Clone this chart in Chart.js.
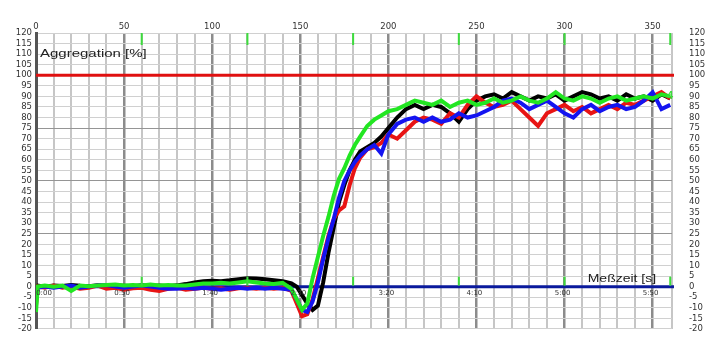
<!DOCTYPE html>
<html>
<head>
<meta charset="utf-8">
<script src="https://cdn.jsdelivr.net/npm/chart.js@4.4.1/dist/chart.umd.min.js"></script>
<style>
  html, body { margin: 0; padding: 0; background: #fff; }
  #wrap { width: 707px; height: 351px; }
</style>
</head>
<body>
<div id="wrap"><canvas id="agg" width="707" height="351"></canvas></div>
<script>
// time axis in seconds (shared by all four channels)
const seconds = [0, 1, 5, 10, 15, 20, 25, 30, 35, 40, 45, 50, 55, 60, 65, 70, 75, 80, 85, 90,
  95, 100, 105, 110, 115, 120, 125, 130, 135, 140, 145, 148, 151, 154, 157, 160, 163, 166, 169, 172,
  175, 178, 181, 184, 188, 192, 196, 200, 205, 210, 215, 220, 225, 230, 235, 240, 245, 250, 255, 260,
  265, 270, 275, 280, 285, 290, 295, 300, 305, 310, 315, 320, 325, 330, 335, 340, 345, 350, 355, 360];

// aggregation [%] per channel
const channelBlack = [0, 0.5, 0, 0.5, 0.3, 0.8, 0.4, 0.2, 0.6, 0.3, 0.5, 0.4, 0.2, 0.6, 0.3, 0.5, 0.2, 0.6, 1.2, 2.0,
  2.5, 2.8, 2.6, 3.0, 3.5, 4.0, 3.8, 3.5, 3.0, 2.5, 1.5, 0, -4, -8, -11, -9, 2, 16, 28, 40,
  48, 55, 60, 64, 66, 68, 71, 75, 80, 84, 86, 84, 86, 85, 82, 78, 84, 88, 90, 91,
  89, 92, 90, 88, 90, 89, 91, 88, 90, 92, 91, 89, 90, 88, 91, 89, 90, 88, 91, 89];

const channelRed = [-9, 0, -0.5, 0.5, -0.5, 0, -1, -0.5, 0.5, -1, -0.5, -1.5, -0.8, -0.5, -1.5, -2, -1, -0.5, -1.5, -1,
  -0.5, -1, -0.8, -1.5, -0.8, -0.5, -1, -0.5, -1, -0.5, -2, -8, -14, -13, -6, 4, 14, 24, 32, 36,
  38, 48, 56, 61, 65, 66, 68, 72, 70, 74, 78, 80, 79, 77, 82, 80, 86, 90, 87, 85,
  86, 88, 84, 80, 76, 82, 84, 86, 83, 85, 82, 84, 86, 84, 87, 86, 88, 90, 92, 89];

const channelBlue = [-5, -0.5, 0, -0.5, 0, 0.5, -0.5, 0, 0.5, 0.8, 0, -0.5, 0, 0.5, 0, -0.5, -1, -1, -0.5, -1,
  -0.5, -1, -1.5, -1, -0.5, -1, -0.5, -1, -0.5, -1, -1.5, -6, -11, -12, -7, 2, 13, 23, 32, 42,
  50, 55, 59, 62, 65, 67, 63, 72, 77, 79, 80, 78, 80, 78, 79, 82, 80, 81, 83, 85,
  88, 89, 87, 84, 86, 88, 85, 82, 80, 84, 86, 83, 85, 86, 84, 85, 88, 92, 84, 86];

const channelGreen = [-12, 0, 0.5, 0, 0.5, -2, 0.5, 0.2, 0.5, 0.8, 1, 0.5, 0.8, 0.5, 1, 0.5, 0.8, 0.5, 0.5, 1,
  1.5, 1.5, 1.8, 1.5, 2, 2.5, 2, 1.5, 1.2, 1.8, -1, -6, -11, -8, 4, 14, 24, 33, 43, 51,
  56, 62, 67, 71, 76, 79, 81, 83, 84, 86, 88, 87, 86, 88, 85, 87, 88, 86, 87, 89,
  87, 88, 90, 88, 87, 89, 92, 89, 88, 90, 89, 87, 89, 90, 88, 89, 90, 89, 91, 90];

const refLevel = 100;     // red line
const baseLevel = 0;      // blue baseline
const minuteMarks = [60, 120, 180, 240, 300, 360];
const timeLabels = [0, 50, 100, 150, 200, 250, 300, 350];

function toPoints(vals) {
  return vals.map((v, i) => ({ x: seconds[i], y: v }));
}

function mmss(s) {
  const m = Math.floor(s / 60);
  const r = s % 60;
  return m + ':' + (r < 10 ? '0' : '') + r;
}

// wide, old-style label text
function wideText(ctx, txt, x, y, stretch) {
  ctx.save();
  ctx.translate(x, y);
  ctx.scale(stretch, 1);
  ctx.fillText(txt, 0, 0);
  ctx.restore();
}

const overlay = {
  id: 'overlay',
  beforeDatasetsDraw(chart) {
    const { ctx, chartArea: a, scales: { y } } = chart;
    ctx.save();
    ctx.lineWidth = 3;
    ctx.strokeStyle = '#e01010';
    ctx.beginPath();
    ctx.moveTo(a.left, y.getPixelForValue(refLevel));
    ctx.lineTo(a.right + 2, y.getPixelForValue(refLevel));
    ctx.stroke();
    ctx.strokeStyle = '#0a1a9c';
    ctx.beginPath();
    ctx.moveTo(a.left, y.getPixelForValue(baseLevel));
    ctx.lineTo(a.right + 2, y.getPixelForValue(baseLevel));
    ctx.stroke();
    ctx.restore();
  },
  afterDatasetsDraw(chart) {
    const { ctx, chartArea: a, scales: { x, y } } = chart;
    ctx.save();
    // minute markers
    ctx.strokeStyle = '#3ddc3d';
    ctx.lineWidth = 2;
    minuteMarks.forEach(m => {
      const px = x.getPixelForValue(m);
      ctx.beginPath();
      ctx.moveTo(px, a.top);
      ctx.lineTo(px, a.top + 12);
      ctx.stroke();
      ctx.beginPath();
      ctx.moveTo(px, y.getPixelForValue(baseLevel) - 1);
      ctx.lineTo(px, y.getPixelForValue(baseLevel) - 10);
      ctx.stroke();
    });
    // time labels under the baseline
    ctx.fillStyle = '#333';
    ctx.font = '7px "DejaVu Sans"';
    ctx.textAlign = 'center';
    ctx.textBaseline = 'top';
    timeLabels.forEach(t => {
      const px = x.getPixelForValue(t) + (t === 0 ? 8 : -2);
      ctx.fillText(mmss(t), px, y.getPixelForValue(baseLevel) + 3);
    });
    // axis titles
    ctx.fillStyle = '#222';
    ctx.font = '10px "Liberation Sans"';
    ctx.textAlign = 'left';
    ctx.textBaseline = 'middle';
    wideText(ctx, 'Aggregation [%]', a.left + 4, y.getPixelForValue(110), 1.5);
    ctx.textAlign = 'right';
    ctx.textBaseline = 'bottom';
    wideText(ctx, 'Meßzeit [s]', x.getPixelForValue(352), y.getPixelForValue(baseLevel) - 2, 1.4);
    // channel number
    ctx.fillStyle = '#3ddc3d';
    ctx.textAlign = 'right';
    ctx.textBaseline = 'middle';
    ctx.font = 'bold 11px "Liberation Sans"';
    ctx.fillText('4', a.right + 1, y.getPixelForValue(channelGreen[channelGreen.length - 1]));
    ctx.restore();
  }
};

const line = (vals, color) => ({
  data: toPoints(vals),
  borderColor: color,
  borderWidth: 4,
  pointRadius: 0,
  tension: 0,
  fill: false
});

const tickFont = { family: 'DejaVu Sans', size: 8.5 };

new Chart(document.getElementById('agg'), {
  type: 'line',
  data: {
    datasets: [
      line(channelGreen, '#22e622'),
      line(channelBlue, '#1414f0'),
      line(channelRed, '#e81414'),
      line(channelBlack, '#000000')
    ]
  },
  options: {
    responsive: false,
    animation: false,
    layout: { padding: { top: 0, bottom: 3, left: 0, right: 0 } },
    plugins: { legend: { display: false }, tooltip: { enabled: false } },
    scales: {
      x: {
        type: 'linear',
        position: 'top',
        min: 0,
        max: 361,
        afterFit: s => { s.height = 33; },
        border: { display: false },
        grid: {
          drawTicks: false,
          color: c => (c.tick && c.tick.value % 50 === 0) ? '#8c8c8c' : '#c6c6c6',
          lineWidth: c => (c.tick && c.tick.value % 50 === 0) ? 2.5 : 2
        },
        ticks: {
          stepSize: 10,
          autoSkip: false,
          maxRotation: 0,
          padding: 1,
          color: '#333',
          font: tickFont,
          callback: v => (v % 50 === 0 ? String(v) : '')
        }
      },
      y: {
        position: 'left',
        min: -20,
        max: 120,
        afterFit: s => { s.width = 36; },
        border: { color: '#555', width: 3 },
        grid: {
          drawTicks: false,
          color: c => (c.tick && c.tick.value % 25 === 0) ? '#959595' : '#d0d0d0',
          lineWidth: 1
        },
        ticks: {
          stepSize: 5,
          autoSkip: false,
          padding: 4,
          color: '#333',
          font: tickFont
        }
      },
      yR: {
        position: 'right',
        min: -20,
        max: 120,
        afterFit: s => { s.width = 35; },
        border: { display: false },
        grid: { display: false, drawTicks: false },
        ticks: {
          stepSize: 5,
          autoSkip: false,
          padding: 17,
          color: '#333',
          font: tickFont
        }
      }
    }
  },
  plugins: [overlay]
});
</script>
</body>
</html>
